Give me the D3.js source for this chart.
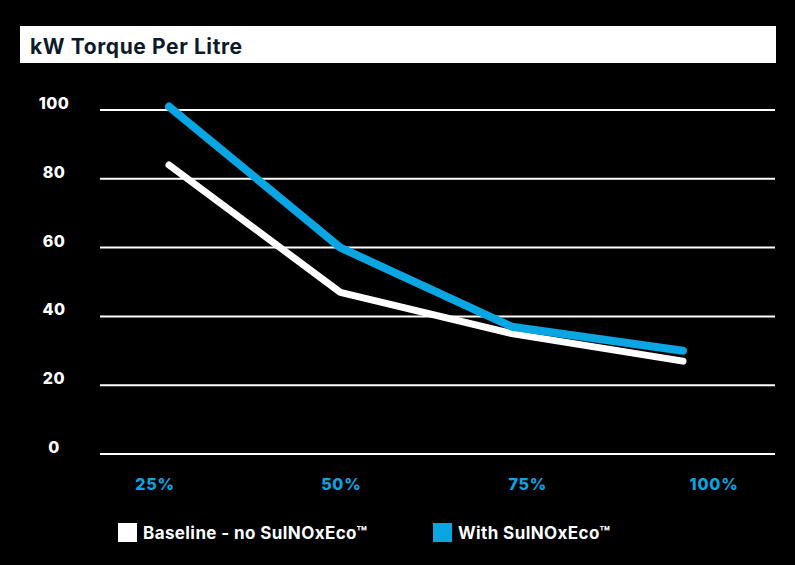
<!DOCTYPE html>
<html>
<head>
<meta charset="utf-8">
<script src="https://cdn.jsdelivr.net/npm/d3@7"></script>
<style>
  body { margin: 0; background: #000; }
  svg { display: block; }
  text { font-family: "Inter", "Open Sans", sans-serif; font-weight: 700; }
</style>
</head>
<body>
<div id="chart"></div>
<script>
var categories = ["25%", "50%", "75%", "100%"]
var baseline = [84, 47, 35, 27]
var withEco = [101, 60, 37, 30]
var yTicks = [0, 20, 40, 60, 80, 100]
var seriesNames = ["Baseline - no SulNOxEco\u2122", "With SulNOxEco\u2122"]
var seriesColours = ["#ffffff", "#0aa6e3"]

var width = 795, height = 565

var svg = d3.select("#chart").append("svg")
  .attr("width", width)
  .attr("height", height)

svg.append("rect")
  .attr("width", width).attr("height", height)
  .attr("fill", "#000")

// title bar
svg.append("rect")
  .attr("x", 20).attr("y", 26)
  .attr("width", 756).attr("height", 37)
  .attr("fill", "#fff")

svg.append("text")
  .attr("x", 30).attr("y", 54)
  .attr("fill", "#0d1a2c")
  .style("font-size", "21px")
  .style("letter-spacing", "0.6px")
  .text("kW Torque Per Litre")

var y = d3.scaleLinear().domain([0, 100]).range([454, 110])
var x = d3.scalePoint().domain(categories).range([169, 683])
var xLab = d3.scalePoint().domain(categories).range([155, 714])

// gridlines
svg.append("g")
  .selectAll("line")
  .data(yTicks)
  .enter().append("line")
    .attr("x1", 100).attr("x2", 775)
    .attr("y1", function(d){ return y(d) })
    .attr("y2", function(d){ return y(d) })
    .attr("stroke", "#fff")
    .attr("stroke-width", 2)

svg.append("g")
  .selectAll("text")
  .data(yTicks)
  .enter().append("text")
    .attr("x", 54)
    .attr("y", function(d){ return y(d) - 1 })
    .attr("text-anchor", "middle")
    .attr("fill", "#fff")
    .style("font-size", "16px")
    .style("font-weight", 800)
    .style("letter-spacing", "0.5px")
    .text(function(d){ return d })

svg.append("g")
  .selectAll("text")
  .data(categories)
  .enter().append("text")
    .attr("x", function(d){ return xLab(d) })
    .attr("y", 490)
    .attr("text-anchor", "middle")
    .attr("fill", seriesColours[1])
    .style("font-size", "16px")
    .style("font-weight", 800)
    .style("letter-spacing", "0.8px")
    .text(function(d){ return d })

var line = d3.line()
  .x(function(d, i){ return x(categories[i]) })
  .y(function(d){ return y(d) })

;[baseline, withEco].forEach(function(s, i){
  svg.append("path")
    .datum(s)
    .attr("d", line)
    .attr("fill", "none")
    .attr("stroke", seriesColours[i])
    .attr("stroke-width", i == 1 ? 8 : 7)
    .attr("stroke-linecap", "round")
    .attr("stroke-linejoin", "round")
})

// legend
var legX = [118, 433]
seriesNames.forEach(function(n, i){
  svg.append("rect")
    .attr("x", legX[i]).attr("y", 523)
    .attr("width", 19).attr("height", 19)
    .attr("fill", seriesColours[i])
  svg.append("text")
    .attr("x", legX[i] + 25).attr("y", 539)
    .attr("fill", "#fff")
    .style("font-size", "17px")
    .style("letter-spacing", "0.4px")
    .text(n)
})
</script>
</body>
</html>
